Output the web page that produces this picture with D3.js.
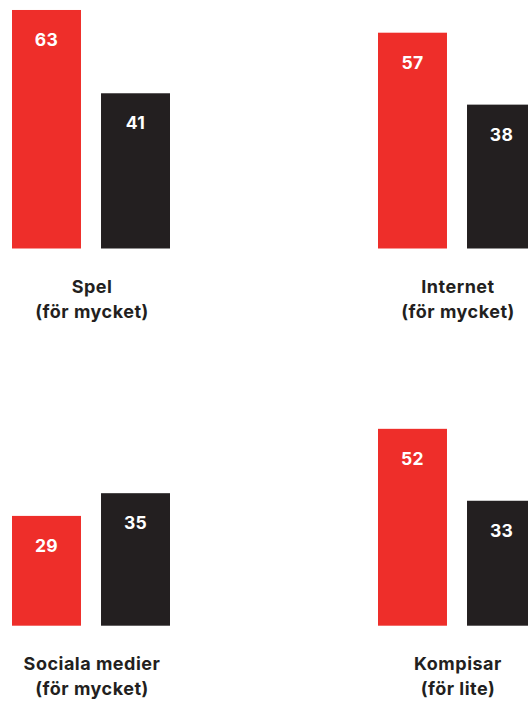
<!DOCTYPE html>
<html>
<head>
<meta charset="utf-8">
<script src="https://cdn.jsdelivr.net/npm/d3@7"></script>
<style>
  body { margin: 0; background: #fff; }
  svg { display: block; }
</style>
</head>
<body>
<svg id="chart" width="528" height="702"></svg>
<script>
// kategorier och värden
const categories = ["Spel", "Internet", "Sociala medier", "Kompisar"];
const subLabels = ["(för mycket)", "(för mycket)", "(för mycket)", "(för lite)"];
const seriesNames = ["serie1", "serie2"];
const redValues = [63, 57, 29, 52];
const blackValues = [41, 38, 35, 33];

const colors = ["#ee2e2a", "#231f20"];

const svg = d3.select("#chart");

// rutnät 2x2
const panelX = [12, 378];
const baselines = [248.5, 625.7];
const panelW = 158;

const h = d3.scaleLinear().domain([0, 100]).range([0, 378.6]);

const x = d3.scaleBand()
    .domain(seriesNames)
    .range([0, panelW])
    .paddingInner(0.225)
    .paddingOuter(0);

categories.forEach((cat, i) => {
    const col = i % 2, row = Math.floor(i / 2);
    const base = baselines[row];
    const g = svg.append("g").attr("transform", `translate(${panelX[col]},0)`);

    const vals = [redValues[i], blackValues[i]];
    const data = seriesNames.map((s, j) => ({ s: s, v: vals[j], c: colors[j] }));

    g.selectAll("rect")
        .data(data)
        .enter()
        .append("rect")
            .attr("x", d => x(d.s))
            .attr("width", x.bandwidth())
            .attr("y", d => base - h(d.v))
            .attr("height", d => h(d.v))
            .attr("fill", d => d.c);

    g.selectAll("text.val")
        .data(data)
        .enter()
        .append("text")
            .attr("class", "val")
            .attr("x", d => x(d.s) + x.bandwidth() / 2)
            .attr("y", d => base - h(d.v) + 36)
            .attr("text-anchor", "middle")
            .attr("fill", "#fff")
            .style("font-family", "Inter, 'Open Sans', sans-serif")
            .style("font-weight", "700")
            .style("font-size", "17.5px")
            .style("letter-spacing", "0.3px")
            .text(d => d.v);

    const lab = g.append("text")
        .attr("text-anchor", "middle")
        .attr("fill", "#231f20")
        .style("font-family", "Inter, 'Open Sans', sans-serif")
        .style("font-weight", "700")
        .style("font-size", "18px")
        .style("letter-spacing", "0.5px");
    lab.append("tspan")
        .attr("x", panelW / 2 + 1)
        .attr("y", base + 44)
        .text(cat);
    lab.append("tspan")
        .attr("x", panelW / 2 + 1)
        .attr("y", base + 69)
        .text(subLabels[i]);
});
</script>
</body>
</html>
